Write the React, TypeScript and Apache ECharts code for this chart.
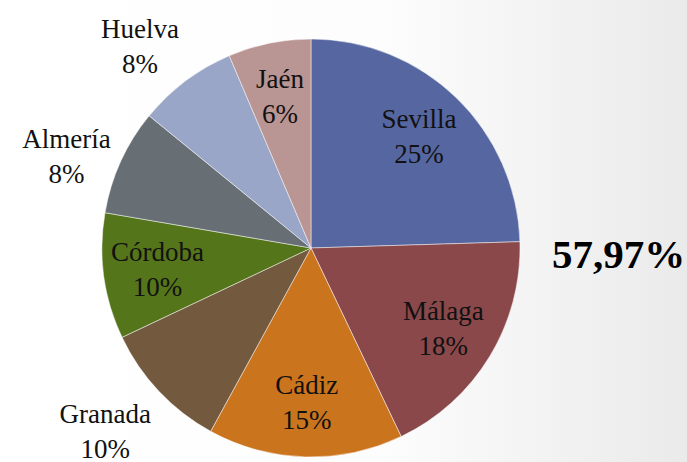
import React, { useEffect, useRef } from "react";
import * as echarts from "echarts";

const provinces = ["Sevilla", "Málaga", "Cádiz", "Granada", "Córdoba", "Almería", "Huelva", "Jaén"];
const shares = [24.52, 18.38, 15.07, 10.0, 9.73, 8.2, 7.7, 6.4];
const sliceColors = ["#5566A0", "#8A484B", "#CB741E", "#735A3E", "#55751A", "#676F75", "#99A6C8", "#B99593"];
const outsideLabelled = ["Granada", "Almería", "Huelva"];
const highlightedCount = 3;

const CX = 311;
const CY = 248;
const R = 209;

export default function App() {
  const ref = useRef<HTMLDivElement>(null);
  useEffect(() => {
    document.body.style.margin = "0";
    if (!ref.current) return;
    const chart = echarts.init(ref.current, null, { renderer: "svg" });
    const fam = "Liberation Serif";
    const fmt = (p: any) => `{t|${p.name}}\n{t|${Math.round(p.percent)}%}`;
    const rich = { t: { color: "#111", fontFamily: fam, fontSize: 27, lineHeight: 35 } };
    const baseData = provinces.map((n, i) => ({ name: n, value: shares[i] }));
    const totalShare = shares.reduce((a, b) => a + b, 0);
    const midAngle = (i: number) => {
      const before = shares.slice(0, i).reduce((a, b) => a + b, 0);
      const frac = (before + shares[i] / 2) / totalShare;
      return -Math.PI / 2 + frac * Math.PI * 2;
    };
    const labelText = {
      color: "#111",
      fontFamily: fam,
      fontSize: 27,
      lineHeight: 35,
      overflow: "none",
      formatter: fmt,
      rich,
    };
    const total = shares.slice(0, highlightedCount).reduce((a, b) => a + b, 0);
    const totalText = total.toFixed(2).replace(".", ",") + "%";
    chart.setOption({
      animation: false,
      textStyle: { fontFamily: fam },
      backgroundColor: {
        type: "linear",
        x: 0,
        y: 0,
        x2: 1,
        y2: 0,
        colorStops: [
          { offset: 0, color: "#ffffff" },
          { offset: 0.55, color: "#fdfdfd" },
          { offset: 1, color: "#eaeaea" },
        ],
      },
      graphic: [
        {
          type: "text",
          x: 552,
          y: 254,
          style: {
            text: totalText,
            fontFamily: fam,
            fontWeight: "bold",
            fontSize: 41,
            fill: "#000",
            textVerticalAlign: "middle",
          },
        },
      ],
      series: [
        {
          type: "pie",
          center: [CX, CY],
          radius: R,
          startAngle: 90,
          clockwise: true,
          silent: true,
          label: { ...labelText, position: "outside", edgeDistance: 0 },
          labelLine: { show: false },
          labelLayout: (params: any) => {
            const i = params.dataIndex;
            const a = midAngle(i);
            const c = Math.cos(a);
            const s = Math.sin(a);
            const d = R + 11;
            const px = CX + d * c;
            const py = CY + d * s;
            const w = params.labelRect.width;
            const h = params.labelRect.height;
            const x = c < 0 ? px - w / 2 : px + w / 2;
            let y = py;
            if (Math.abs(s) >= 0.5) y = s < 0 ? py - h / 2 + 9 : py + h / 2 - 2;
            return { x, y, align: "center", verticalAlign: "middle" };
          },
          itemStyle: { borderColor: "rgba(255,255,255,0.6)", borderWidth: 0.8 },
          data: baseData.map((d, i) => ({
            ...d,
            itemStyle: { color: sliceColors[i] },
            label: { show: outsideLabelled.includes(d.name) },
          })),
        },
        {
          type: "pie",
          center: [CX, CY],
          radius: 304,
          startAngle: 90,
          silent: true,
          itemStyle: { color: "rgba(0,0,0,0)" },
          labelLine: { show: false },
          label: { ...labelText, position: "inside", rotate: 0 },
          data: baseData.map((d) => ({ ...d, label: { show: !outsideLabelled.includes(d.name) } })),
        },
      ],
    });
    return () => chart.dispose();
  }, []);
  return <div ref={ref} style={{ width: 687, height: 462 }} />;
}
